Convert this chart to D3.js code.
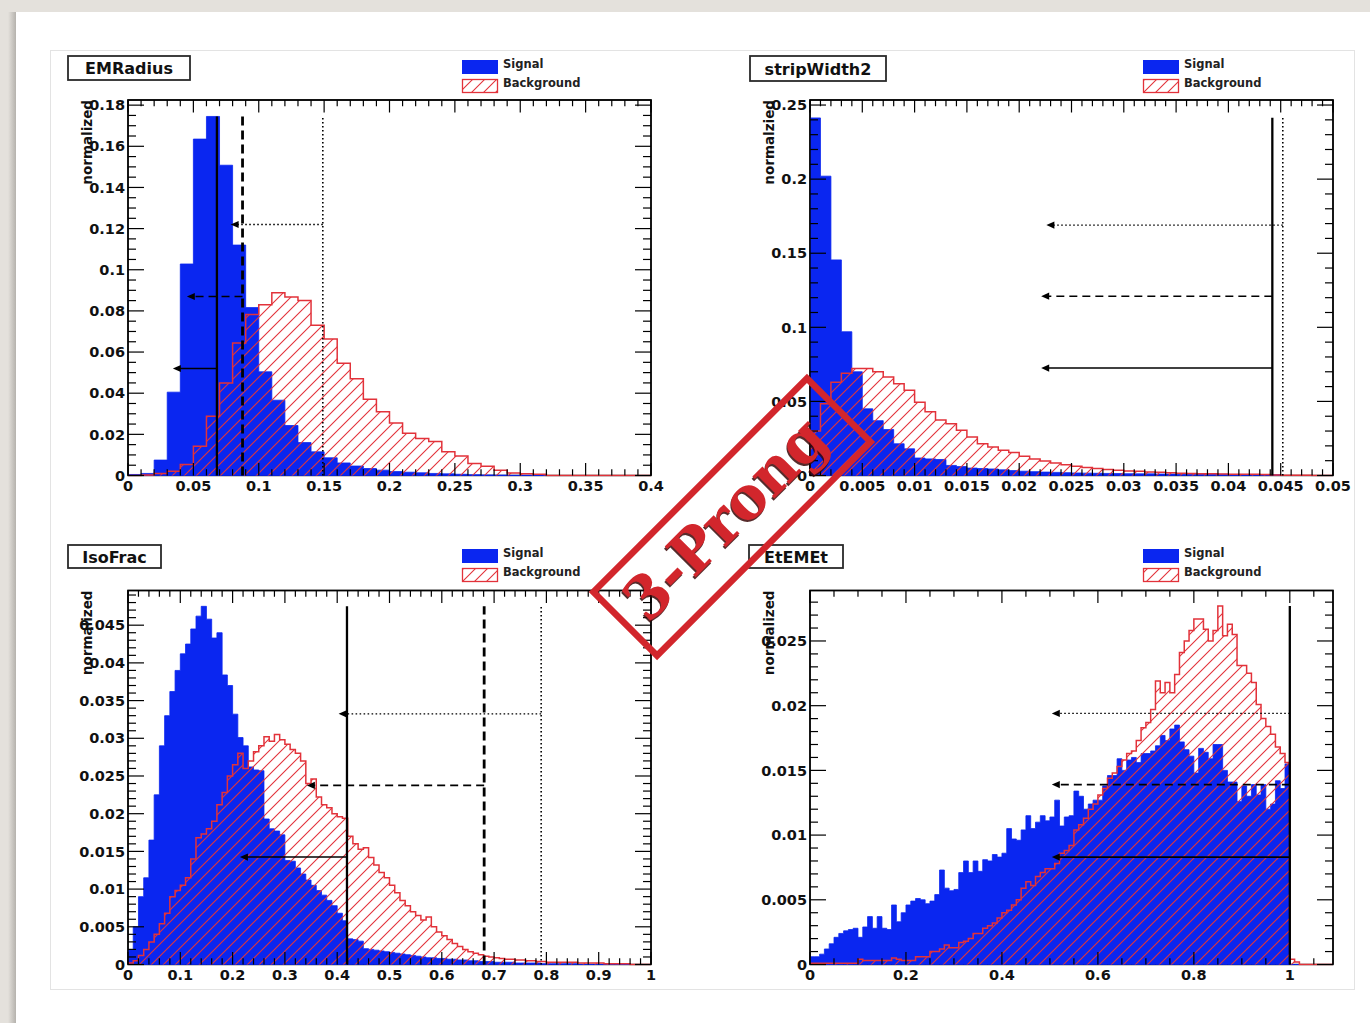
<!DOCTYPE html>
<html><head><meta charset="utf-8">
<script src="https://cdn.jsdelivr.net/npm/d3@7"></script>
<style>html,body{margin:0;padding:0;background:#e4e1dc;}svg{display:block;}</style>
</head><body>
<svg id="c" width="1370" height="1023"></svg>
<script>
// ---------------- DATA ----------------
const panelTitles = ["EMRadius", "stripWidth2", "IsoFrac", "EtEMEt"];
const yTitles = ["normalized", "normalzied", "normalized", "normalized"];
const legendLabels = ["Signal", "Background"];
const stampText = "3-Prong";

// EMRadius: 40 bins of 0.01
const emradiusSignal = [0.0005,0.0010,0.0075,0.0405,0.1028,0.1635,0.1745,0.1508,0.1120,0.0816,
  0.0504,0.0366,0.0243,0.0160,0.0115,0.0086,0.0061,0.0046,0.0034,0.0026,
  0.0019,0.0016,0.0013,0.0010,0.0008,0.0006,0.0004,0.0003,0.0002,0.0001,
  0.0001,0,0,0,0,0,0,0,0,0];
const emradiusBackground = [0,0.0003,0.0010,0.0021,0.0053,0.0142,0.0288,0.0450,0.0644,0.0782,
  0.0830,0.0888,0.0867,0.0850,0.0730,0.0664,0.0545,0.0470,0.0370,0.0310,
  0.0255,0.0205,0.0180,0.0165,0.0115,0.0095,0.0058,0.0045,0.0025,0.0012,
  0.0008,0.0006,0,0,0,0,0,0,0,0];
const emradiusXTicks = [0,0.05,0.1,0.15,0.2,0.25,0.3,0.35,0.4];
const emradiusYTicks = [0,0.02,0.04,0.06,0.08,0.1,0.12,0.14,0.16,0.18];
const emradiusCuts = [0.068,0.0876,0.149];        // solid, dashed, dotted
const emradiusArrowY = [0.052,0.087,0.122];
const emradiusArrowEnd = [0.0343,0.045,0.0785];
const emradiusCutTop = 0.1745;

// stripWidth2: 50 bins of 0.001
const stripSignal = [0.2413,0.2020,0.1455,0.0970,0.0700,0.0450,0.0370,0.0310,0.0214,0.0180,
  0.0118,0.0112,0.0108,0.0068,0.0060,0.0050,0.0047,0.0044,0.0038,0.0033,
  0.0029,0.0026,0.0023,0.0021,0.0019,0.0017,0.0016,0.0015,0.0014,0.0013,
  0.0012,0.0011,0.0011,0.0010,0.0010,0.0009,0.0009,0.0008,0.0008,0.0008,
  0.0007,0.0007,0.0007,0.0006,0.0005,0,0,0,0,0];
const stripBackground = [0.0300,0.0484,0.0630,0.0690,0.0722,0.0722,0.0700,0.0665,0.0620,0.0575,
  0.0495,0.0430,0.0375,0.0350,0.0305,0.0260,0.0215,0.0192,0.0170,0.0155,
  0.0130,0.0112,0.0098,0.0085,0.0072,0.0062,0.0054,0.0048,0.0040,0.0036,
  0.0030,0.0028,0.0024,0.0022,0.0019,0.0016,0.0014,0.0012,0.0011,0.0010,
  0.0009,0.0008,0.0008,0.0006,0.0003,0.0002,0.0001,0.0001,0,0];
const stripXTicks = [0,0.005,0.01,0.015,0.02,0.025,0.03,0.035,0.04,0.045,0.05];
const stripYTicks = [0,0.05,0.1,0.15,0.2,0.25];
const stripCuts = [0.0442,0.0442,0.0452];
const stripArrowY = [0.0725,0.121,0.169];
const stripArrowEnd = [0.0221,0.0221,0.0226];
const stripCutTop = 0.2415;

// IsoFrac: 100 bins of 0.01
const isoSignal = [0.0020,0.0050,0.0090,0.0115,0.0165,0.0225,0.0290,0.0330,0.0362,0.0390,
  0.0412,0.0425,0.0445,0.0462,0.0475,0.0458,0.0433,0.0440,0.0384,0.0370,
  0.0332,0.0301,0.0290,0.0262,0.0258,0.0257,0.0193,0.0180,0.0177,0.0172,
  0.0138,0.0137,0.0128,0.0120,0.0112,0.0105,0.0098,0.0092,0.0085,0.0078,
  0.0068,0.0058,0.0034,0.0033,0.0031,0.0021,0.0020,0.0019,0.0018,0.0017,
  0.0016,0.0015,0.0014,0.0013,0.0012,0.0011,0.0010,0.0009,0.0009,0.0008,
  0.0008,0.0007,0.0007,0.0006,0.0006,0.0005,0.0005,0.0004,0.0004,0.0004,
  0.0003,0.0003,0.0003,0.0003,0.0002,0.0002,0.0002,0.0002,0.0002,0.0001,
  0.0001,0.0001,0.0001,0.0001,0.0001,0.0001,0,0,0,0,
  0,0,0,0,0,0,0,0,0,0];
const isoBackground = [0.0002,0.0005,0.0012,0.0020,0.0030,0.0040,0.0054,0.0068,0.0090,0.0098,
  0.0105,0.0115,0.0140,0.0168,0.0173,0.0180,0.0190,0.0212,0.0228,0.0250,
  0.0265,0.0280,0.0260,0.0270,0.0282,0.0290,0.0302,0.0296,0.0305,0.0298,
  0.0292,0.0285,0.0280,0.0270,0.0240,0.0246,0.0222,0.0212,0.0208,0.0200,
  0.0196,0.0194,0.0170,0.0160,0.0153,0.0155,0.0142,0.0132,0.0122,0.0115,
  0.0105,0.0095,0.0085,0.0078,0.0070,0.0065,0.0059,0.0063,0.0050,0.0043,
  0.0038,0.0033,0.0028,0.0024,0.0020,0.0017,0.0015,0.0013,0.0011,0.0010,
  0.0009,0.0008,0.0007,0.0007,0.0006,0.0006,0.0005,0.0005,0.0004,0.0004,
  0.0003,0.0003,0.0003,0.0003,0.0003,0.0003,0.0002,0.0002,0.0002,0.0002,
  0.0002,0.0001,0.0001,0.0001,0.0001,0.0001,0,0,0,0];
const isoXTicks = [0,0.1,0.2,0.3,0.4,0.5,0.6,0.7,0.8,0.9,1];
const isoYTicks = [0,0.005,0.01,0.015,0.02,0.025,0.03,0.035,0.04,0.045];
const isoCuts = [0.4187,0.681,0.790];
const isoArrowY = [0.01425,0.02375,0.03325];
const isoArrowEnd = [0.214,0.342,0.4027];
const isoCutTop = 0.0475;

// EtEMEt: 109 bins of 0.01
const etemSignal = [0.0006,0.0006,0.0008,0.0012,0.0016,0.0021,0.0024,0.0026,0.0027,0.0028,
  0.0021,0.0029,0.0037,0.0028,0.0037,0.0028,0.0027,0.0046,0.0033,0.0040,
  0.0046,0.0049,0.0051,0.0050,0.0047,0.0049,0.0054,0.0073,0.0059,0.0057,
  0.0058,0.0071,0.0080,0.0071,0.0080,0.0072,0.0081,0.0080,0.0085,0.0083,
  0.0086,0.0105,0.0097,0.0096,0.0104,0.0115,0.0105,0.0110,0.0115,0.0111,
  0.0114,0.0127,0.0107,0.0114,0.0115,0.0134,0.0130,0.0120,0.0124,0.0127,
  0.0127,0.0138,0.0146,0.0146,0.0159,0.0150,0.0158,0.0160,0.0156,0.0163,
  0.0163,0.0165,0.0169,0.0177,0.0173,0.0182,0.0185,0.0172,0.0166,0.0161,
  0.0148,0.0167,0.0164,0.0159,0.0170,0.0170,0.0150,0.0141,0.0141,0.0126,
  0.0138,0.0130,0.0139,0.0131,0.0139,0.0120,0.0124,0.0142,0.0136,0.0155,
  0,0,0,0,0,0,0,0,0];
const etemBackground = [0.0001,0.0001,0.0001,0.0001,0.0001,0.0001,0.0001,0.0001,0.0001,0.0001,
  0.0004,0.0003,0.0003,0.0003,0.0003,0.0003,0.0003,0.0005,0.0004,0.0003,
  0.0003,0.0003,0.0006,0.0006,0.0006,0.0010,0.0010,0.0012,0.0015,0.0013,
  0.0013,0.0017,0.0018,0.0020,0.0024,0.0024,0.0028,0.0030,0.0032,0.0036,
  0.0040,0.0042,0.0046,0.0050,0.0059,0.0064,0.0061,0.0068,0.0071,0.0074,
  0.0074,0.0078,0.0086,0.0088,0.0092,0.0104,0.0108,0.0113,0.0120,0.0124,
  0.0131,0.0136,0.0144,0.0148,0.0153,0.0158,0.0163,0.0165,0.0173,0.0183,
  0.0187,0.0197,0.0219,0.0210,0.0218,0.0210,0.0224,0.0241,0.0250,0.0258,
  0.0267,0.0267,0.0259,0.0250,0.0258,0.0277,0.0254,0.0263,0.0255,0.0231,
  0.0231,0.0225,0.0218,0.0201,0.0190,0.0184,0.0178,0.0168,0.0163,0.0156,
  0.0004,0.0002,0,0,0,0,0,0,0];
const etemXTicks = [0,0.2,0.4,0.6,0.8,1];
const etemYTicks = [0,0.005,0.01,0.015,0.02,0.025];
const etemCuts = [1.0,1.0,1.0];
const etemArrowY = [0.0083,0.0139,0.0194];
const etemArrowEnd = [0.504,0.504,0.504];
const etemCutTop = 0.0277;

// ---------------- LAYOUT / STYLE ----------------
const BLUE = "#0a26f0", RED = "#e2323a";
const FONT = "'DejaVu Sans', sans-serif";
const panels = [
  {title:panelTitles[0], yTitle:yTitles[0], frame:{x0:128,x1:651,y0:100,y1:475.5}, xDomain:[0,0.4], yDomain:[0,0.1825], bw:0.01,
   signal:emradiusSignal, background:emradiusBackground, xTicks:emradiusXTicks, xMinor:0.01, yTicks:emradiusYTicks, yMinor:0.005,
   cuts:emradiusCuts, arrowY:emradiusArrowY, arrowEnd:emradiusArrowEnd, cutTop:emradiusCutTop, box:{x:68,y:56,w:122,h:24}, legend:{x:462,y:60}},
  {title:panelTitles[1], yTitle:yTitles[1], frame:{x0:810,x1:1333,y0:100,y1:475.5}, xDomain:[0,0.05], yDomain:[0,0.2534], bw:0.001,
   signal:stripSignal, background:stripBackground, xTicks:stripXTicks, xMinor:0.001, yTicks:stripYTicks, yMinor:0.01,
   cuts:stripCuts, arrowY:stripArrowY, arrowEnd:stripArrowEnd, cutTop:stripCutTop, box:{x:750,y:56,w:136,h:25}, legend:{x:1143,y:60}},
  {title:panelTitles[2], yTitle:yTitles[2], frame:{x0:128,x1:651,y0:590.5,y1:964.5}, xDomain:[0,1], yDomain:[0,0.0496], bw:0.01,
   signal:isoSignal, background:isoBackground, xTicks:isoXTicks, xMinor:0.02, yTicks:isoYTicks, yMinor:0.001,
   cuts:isoCuts, arrowY:isoArrowY, arrowEnd:isoArrowEnd, cutTop:isoCutTop, box:{x:68,y:545,w:93,h:23}, legend:{x:462,y:549}},
  {title:panelTitles[3], yTitle:yTitles[3], frame:{x0:810,x1:1333,y0:590.5,y1:964.5}, xDomain:[0,1.09], yDomain:[0,0.0289], bw:0.01,
   signal:etemSignal, background:etemBackground, xTicks:etemXTicks, xMinor:0.05, yTicks:etemYTicks, yMinor:0.001,
   cuts:etemCuts, arrowY:etemArrowY, arrowEnd:etemArrowEnd, cutTop:etemCutTop, box:{x:749,y:545,w:94,h:23}, legend:{x:1143,y:549}}
];
const cutStyle = [
  {vw:2.3, vd:null, hw:1.6, hd:null},
  {vw:2.8, vd:"9,5", hw:1.6, hd:"8,5"},
  {vw:1.6, vd:"1.6,2.4", hw:1.3, hd:"1.6,2.4"}
];

const fmt = v => String(+v.toFixed(6));

// ---------------- DRAW ----------------
const svg = d3.select("#c");
const defs = svg.append("defs");
svg.append("rect").attr("width",1370).attr("height",1023).attr("fill","#e4e1dc");
const grad = defs.append("linearGradient").attr("id","sh").attr("x1","0").attr("x2","1");
grad.append("stop").attr("offset","0").attr("stop-color","#e4e1dc");
grad.append("stop").attr("offset","1").attr("stop-color","#b5b2ad");
svg.append("rect").attr("x",8).attr("y",12).attr("width",8).attr("height",1011).attr("fill","url(#sh)");
svg.append("rect").attr("x",16).attr("y",12).attr("width",1354).attr("height",1011).attr("fill","#fff");
svg.append("rect").attr("x",50.5).attr("y",50.5).attr("width",1304).attr("height",939)
  .attr("fill","#fff").attr("stroke","#e3e3e3").attr("stroke-width",1);

const pat = defs.append("pattern").attr("id","hatch").attr("patternUnits","userSpaceOnUse")
  .attr("width",12).attr("height",12);
pat.append("path").attr("d","M-3,3 L3,-3 M0,12 L12,0 M9,15 L15,9")
  .attr("stroke",RED).attr("stroke-width",1.1).attr("fill","none");

function minorTicks(max, step, majors){
  const out=[];
  for(let k=0; k*step <= max+1e-9; k++){
    const v=+(k*step).toFixed(8);
    if(!majors.some(m=>Math.abs(m-v)<step*1e-3)) out.push(v);
  }
  return out;
}

panels.forEach((p,i)=>{
  const f=p.frame;
  const x=d3.scaleLinear().domain(p.xDomain).range([f.x0,f.x1]);
  const y=d3.scaleLinear().domain(p.yDomain).range([f.y1,f.y0]);
  const g=svg.append("g");
  defs.append("clipPath").attr("id","cp"+i).append("rect")
    .attr("x",f.x0).attr("y",f.y0-1).attr("width",f.x1-f.x0).attr("height",f.y1-f.y0+2);

  g.append("rect").attr("x",f.x0).attr("y",f.y0).attr("width",f.x1-f.x0).attr("height",f.y1-f.y0)
    .attr("fill","#fff").attr("stroke","#000").attr("stroke-width",1.4);

  const hg=g.append("g").attr("clip-path",`url(#cp${i})`);
  const bw=p.bw;
  const pts = arr => { const a=arr.map((v,k)=>({x:k*bw,v})); a.push({x:arr.length*bw,v:arr[arr.length-1]}); return a; };
  const area=d3.area().x(d=>x(d.x)).y0(y(0)).y1(d=>y(d.v)).curve(d3.curveStepAfter);
  const line=d3.line().x(d=>x(d.x)).y(d=>y(d.v)).curve(d3.curveStepAfter);

  const sp=pts(p.signal);
  hg.append("path").attr("d",area(sp)).attr("fill",BLUE).attr("stroke",BLUE).attr("stroke-width",0.8);
  const bp=pts(p.background);
  hg.append("path").attr("d",area(bp)).attr("fill","url(#hatch)");
  const n=p.background.length;
  const outline=[{x:0,v:0}].concat(bp,[{x:n*bw,v:0},{x:p.xDomain[1],v:0}]);
  hg.append("path").attr("d",line(outline)).attr("fill","none").attr("stroke",RED).attr("stroke-width",1.5);

  g.append("path").attr("d",`M${f.x0},${f.y1}V${f.y0}H${f.x1}V${f.y1}`)
    .attr("fill","none").attr("stroke","#000").attr("stroke-width",1.4);

  // ticks
  const tg=g.append("g").attr("stroke","#000").attr("stroke-width",1.2);
  const xMin=minorTicks(p.xDomain[1],p.xMinor,p.xTicks);
  const yMin=minorTicks(p.yDomain[1],p.yMinor,p.yTicks);
  const XL=12.5, YL=16;
  p.xTicks.forEach(v=>{
    tg.append("line").attr("x1",x(v)).attr("x2",x(v)).attr("y1",f.y1).attr("y2",f.y1-XL);
    tg.append("line").attr("x1",x(v)).attr("x2",x(v)).attr("y1",f.y0).attr("y2",f.y0+XL);
  });
  xMin.forEach(v=>{
    tg.append("line").attr("x1",x(v)).attr("x2",x(v)).attr("y1",f.y1).attr("y2",f.y1-XL/2);
    tg.append("line").attr("x1",x(v)).attr("x2",x(v)).attr("y1",f.y0).attr("y2",f.y0+XL/2);
  });
  p.yTicks.forEach(v=>{
    tg.append("line").attr("y1",y(v)).attr("y2",y(v)).attr("x1",f.x0).attr("x2",f.x0+YL);
    tg.append("line").attr("y1",y(v)).attr("y2",y(v)).attr("x1",f.x1).attr("x2",f.x1-YL);
  });
  yMin.forEach(v=>{
    tg.append("line").attr("y1",y(v)).attr("y2",y(v)).attr("x1",f.x0).attr("x2",f.x0+YL/2);
    tg.append("line").attr("y1",y(v)).attr("y2",y(v)).attr("x1",f.x1).attr("x2",f.x1-YL/2);
  });

  // tick labels
  const lg=g.append("g").attr("font-family",FONT).attr("font-weight","bold").attr("font-size",14.5).attr("fill","#111");
  p.xTicks.forEach(v=>{
    lg.append("text").attr("x",x(v)).attr("y",f.y1+15.5).attr("text-anchor","middle").text(fmt(v));
  });
  p.yTicks.forEach(v=>{
    lg.append("text").attr("x",f.x0-3).attr("y",y(v)+5.2).attr("text-anchor","end").text(fmt(v));
  });
  g.append("text").attr("transform",`translate(${f.x0-36},${f.y0}) rotate(-90)`)
    .attr("text-anchor","end").attr("font-family",FONT).attr("font-weight","bold").attr("font-size",13.5)
    .attr("fill","#111").text(p.yTitle);

  // cut lines and arrows (dotted, dashed, solid order); a vertical that coincides with the solid one is hidden behind it
  const cg=g.append("g").attr("clip-path",`url(#cp${i})`);
  [2,1,0].forEach(k=>{
    const s=cutStyle[k];
    const cx=x(p.cuts[k]);
    if(k===0 || Math.abs(p.cuts[k]-p.cuts[0])>1e-9){
      cg.append("line").attr("x1",cx).attr("x2",cx).attr("y1",y(0)).attr("y2",y(p.cutTop))
        .attr("stroke","#000").attr("stroke-width",s.vw).attr("stroke-dasharray",s.vd);
    }
    const ay=y(p.arrowY[k]), ax=x(p.arrowEnd[k]);
    cg.append("line").attr("x1",cx).attr("x2",ax+6).attr("y1",ay).attr("y2",ay)
      .attr("stroke","#000").attr("stroke-width",s.hw).attr("stroke-dasharray",s.hd);
    cg.append("path").attr("d",`M${ax},${ay}L${ax+8},${ay-3.6}L${ax+8},${ay+3.6}Z`).attr("fill","#000");
  });

  // title box
  const b=p.box;
  g.append("rect").attr("x",b.x).attr("y",b.y).attr("width",b.w).attr("height",b.h)
    .attr("fill","#fff").attr("stroke","#2a2a2a").attr("stroke-width",1.8);
  g.append("text").attr("x",b.x+b.w/2).attr("y",b.y+b.h/2+6).attr("text-anchor","middle")
    .attr("font-family",FONT).attr("font-weight","bold").attr("font-size",16).attr("fill","#111").text(p.title);

  // legend
  const L=p.legend;
  g.append("rect").attr("x",L.x).attr("y",L.y).attr("width",36).attr("height",14).attr("fill",BLUE);
  g.append("rect").attr("x",L.x+0.5).attr("y",L.y+19.5).attr("width",35).attr("height",13)
    .attr("fill","url(#hatch)").attr("stroke",RED).attr("stroke-width",1.3);
  const tx=g.append("g").attr("font-family",FONT).attr("font-weight","bold").attr("font-size",11.5).attr("fill","#222");
  tx.append("text").attr("x",L.x+41).attr("y",L.y+8).text(legendLabels[0]);
  tx.append("text").attr("x",L.x+41).attr("y",L.y+27).text(legendLabels[1]);
});

// stamp
const st=svg.append("g").attr("transform","translate(732,517) rotate(-45)");
st.append("rect").attr("x",-151).attr("y",-45).attr("width",302).attr("height",90)
  .attr("fill","none").attr("stroke","#d2262c").attr("stroke-width",6.5);
st.append("text").attr("x",-8).attr("y",18).attr("text-anchor","middle")
  .attr("font-family","'DejaVu Serif', serif").attr("font-weight","bold").attr("font-size",60)
  .attr("textLength",258).attr("lengthAdjust","spacingAndGlyphs").attr("fill","#3a0808").attr("opacity",0.85).text(stampText);
st.append("text").attr("x",-6).attr("y",17).attr("text-anchor","middle")
  .attr("font-family","'DejaVu Serif', serif").attr("font-weight","bold").attr("font-size",60)
  .attr("textLength",258).attr("lengthAdjust","spacingAndGlyphs").attr("fill","#d2262c").text(stampText);
</script>
</body></html>
